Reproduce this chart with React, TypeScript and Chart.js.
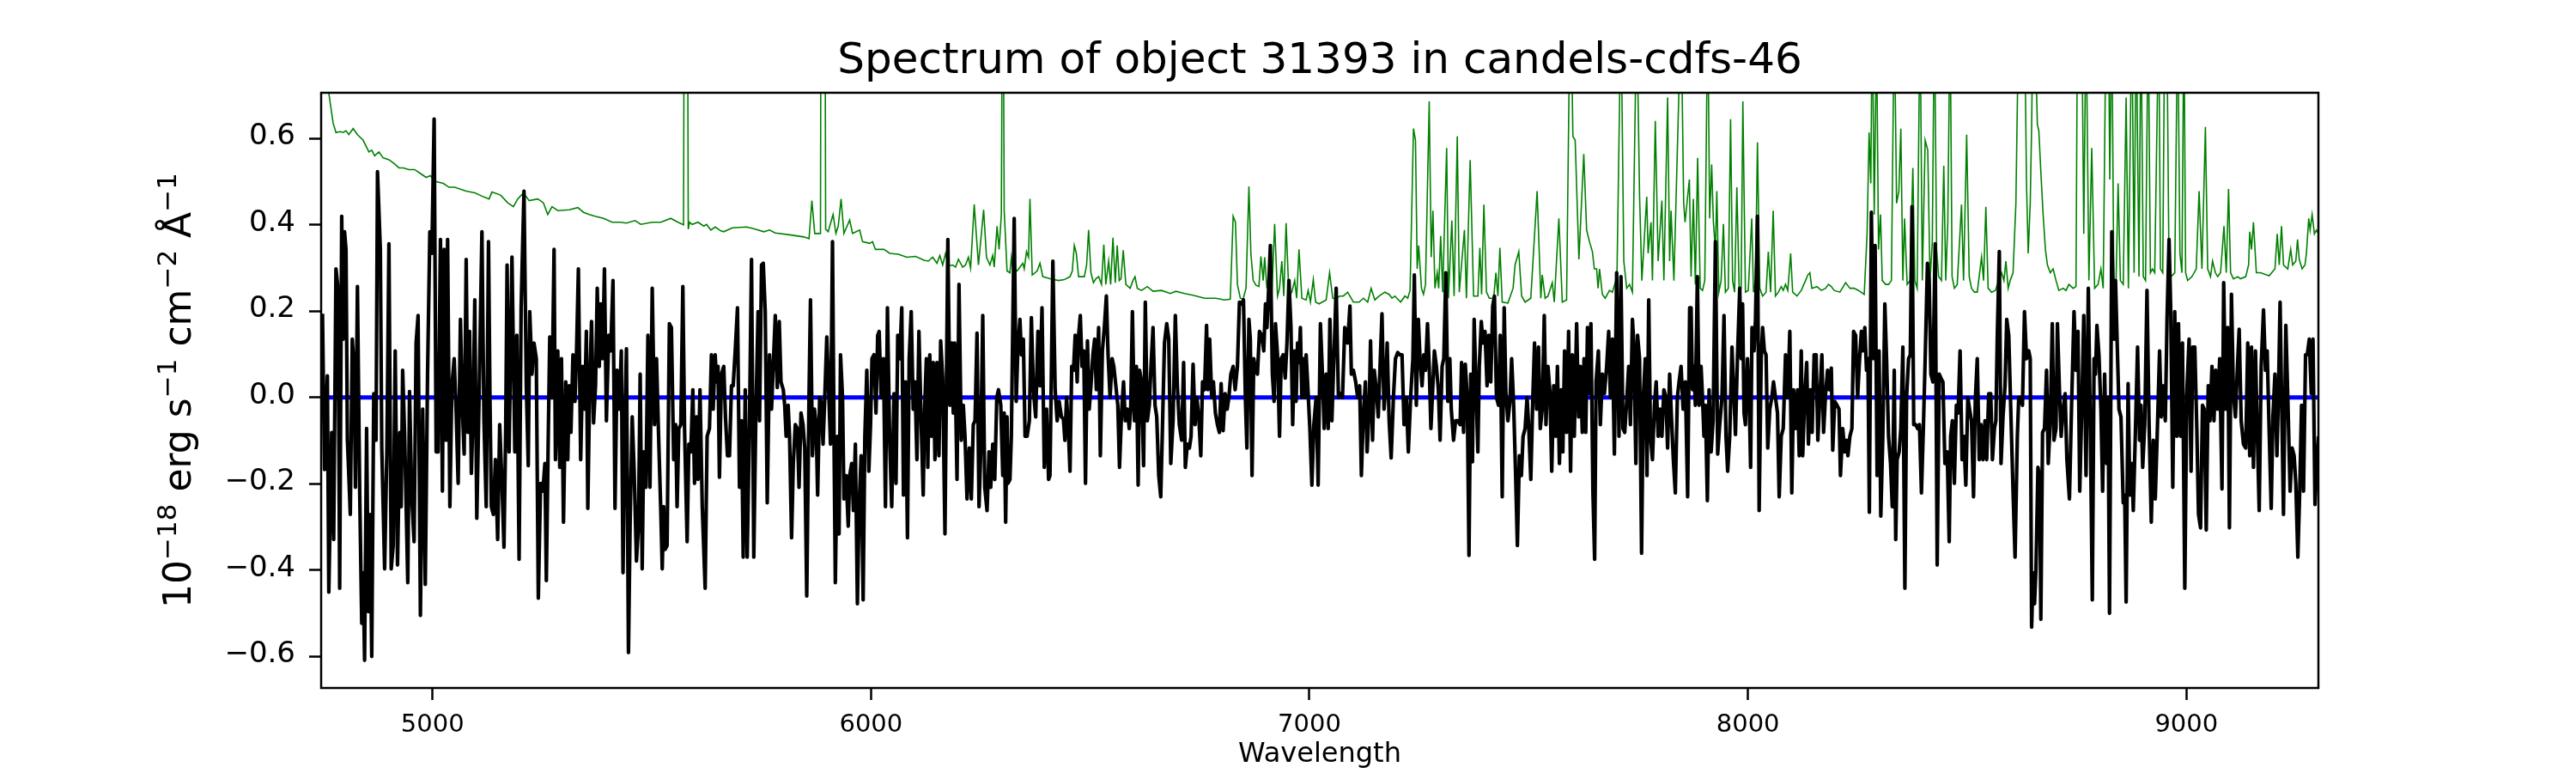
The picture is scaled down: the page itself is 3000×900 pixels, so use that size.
import { useEffect, useRef } from 'react';
import { Chart, registerables } from 'chart.js';

Chart.register(...registerables);

const FONT = '"DejaVu Sans", "Noto Sans", sans-serif';
const TITLE = 'Spectrum of object 31393 in candels-cdfs-46';
const X_LABEL = 'Wavelength';
// y label pieces: [text, isSuperscript]
const Y_LABEL_PARTS: [string, boolean][] = [
  ['10', false], ['\u221218', true], [' erg s', false], ['\u22121', true],
  [' cm', false], ['\u22122', true], [' \u00c5', false], ['\u22121', true],
];

const X_MIN = 4746;
const X_MAX = 9301;
const Y_MIN = -0.673;
const Y_MAX = 0.706;
const X_TICKS = [5000, 6000, 7000, 8000, 9000];
const Y_TICKS = [-0.6, -0.4, -0.2, 0, 0.2, 0.4, 0.6];
const ZERO_LEVEL = 0;

// object flux, [wavelength, flux] in six pieces
const fluxA: [number, number][] = [
  [4749.1,0.194],[4753.7,-0.167],[4760.2,0.05],[4763.5,-0.451],[4770,-0.081],[4774.6,-0.329],[4779.8,0.298],[4784.4,0.253],[4788.3,-0.442],[4792.9,0.42],
  [4796.1,0.135],[4799.4,0.384],[4802.7,0.343],[4805.9,-0.099],[4809.2,-0.181],[4812.5,-0.271],[4817,0.135],[4821,0.072],[4824.2,-0.208],[4828.8,0.257],
  [4834,-0.226],[4838.6,-0.523],[4841.8,-0.406],[4845.1,-0.609],[4849.7,-0.072],[4853.6,-0.496],[4857.5,-0.271],[4861.4,-0.6],[4866,0.009],[4871.2,-0.099],
  [4874.5,0.523],[4881,0.343],[4884.3,-0.117],[4890.8,-0.397],[4896,-0.117],[4900.6,0.356],[4905.8,-0.397],[4910.4,-0.343],[4914.9,0.108],[4920.2,-0.388],
  [4925.4,-0.081],[4928.6,-0.253],[4931.9,0.063],[4936.5,-0.09],[4943.6,-0.429],[4947.6,0.014],[4952.8,-0.235],[4958,-0.334],[4962.6,0.126],[4967.1,0.19],
  [4972.4,-0.505],[4977.6,-0.027],[4983.5,-0.433],[4988.7,0.054],[4993.9,0.384],[4998.5,0.334],[5003.7,0.645],[5008.3,-0.126],[5012.8,-0.126],[5018.1,0.366],
  [5022.6,-0.217],[5026.5,0.343],[5031.1,-0.099],[5034.4,0.366],[5039.6,-0.253],[5044.2,0.027],[5049.4,0.09],[5054,-0.036],[5058.5,-0.199],[5063.7,0.181],
  [5068.3,-0.027],[5072.2,-0.131],[5076.8,0.32],[5080.7,-0.081],[5084.6,0.153],[5088.6,-0.176],[5092.5,-0.036],[5096.4,0.226],[5101,-0.28],[5106.2,0],
  [5112.7,0.384],[5117.3,-0.054],[5122.5,-0.253],[5127.7,0.361],[5131,0],[5134.2,-0.253],[5138.8,-0.271],[5143.4,-0.144],[5148.6,-0.329],[5153.2,-0.063],
  [5158.4,-0.199],[5163,-0.347],[5166.9,-0.072],[5170.1,0.307],[5174.7,-0.126],[5181.2,0.325],[5187.8,-0.126],[5192.3,0.144],[5197.5,-0.375],[5202.1,0.208],
  [5208.6,0.478],[5213.9,0.027],[5218.4,-0.158],[5221.7,0.199],[5226.9,0.054],[5231.5,0.126],[5236.7,0.09],[5241.3,-0.465],[5246.5,-0.199],[5251.7,-0.217],
  [5256.3,-0.153],[5259.6,-0.424],[5263.5,-0.126],[5267.4,0.14],[5272.6,0],[5277.2,0.343],[5280.4,-0.144],[5285.7,0.108],[5290.2,-0.162],[5294.1,0.09],
  [5298.7,-0.289],[5303.9,0.036],[5308.5,-0.144],[5311.8,0.027],[5315.7,-0.081],[5320.3,0.099],[5324.8,-0.009],[5328.1,0.09],[5332.7,0.298],[5337.9,-0.144],
  [5342.4,0.072],[5347,-0.027],[5350.9,0.153],[5354.2,-0.257],[5358.8,0.045],[5362.7,0.176],[5367.3,-0.059],[5371.8,0.027],[5375.7,0.253],[5380.3,0.072],
  [5383.6,0.217],[5388.1,0.09],[5392.1,0.298],[5396.6,-0.054],[5401.8,0.144],[5406.4,0.108],[5411.6,0.271],[5416.2,-0.257],[5420.8,0.063],[5426,-0.027],
  [5430.6,0.108],[5434.5,-0.406],[5439,-0.036],[5442.3,0.113],[5446.9,-0.591],[5450.8,-0.28],[5455.4,-0.045],[5459.9,-0.171],[5465.1,-0.379],[5469.7,-0.298],
  [5473.6,0.054],[5478.2,-0.397],[5481.5,-0.126],[5486.7,-0.208],[5491.3,0.144],[5495.9,-0.208],[5501.1,0.253],[5506.3,-0.063],[5510.9,0.09],[5515.4,-0.081],
];

const fluxB: [number, number][] = [
  [5520.6,-0.262],[5523.9,-0.397],[5527.1,-0.253],[5530.4,-0.352],[5535,-0.343],[5540.2,0.171],[5544.8,0.162],[5550,-0.144],[5554.5,-0.063],[5557.8,-0.253],
  [5561.7,-0.072],[5566.3,-0.063],[5570.9,0.257],[5574.8,-0.072],[5580.7,-0.334],[5584.6,-0.108],[5589.1,-0.126],[5593.7,0.018],[5597.6,-0.199],[5602.2,-0.045],
  [5605.5,-0.19],[5610,0.018],[5615.2,-0.253],[5621.8,-0.442],[5626.3,-0.09],[5631.6,-0.072],[5636.1,0.099],[5640.1,-0.027],[5644.6,0.099],[5647.9,0.036],
  [5651.1,0.072],[5654.4,-0.185],[5659,0.054],[5664.2,0.072],[5668.1,-0.045],[5672.7,-0.135],[5677.3,-0.135],[5681.8,0.027],[5685.7,0.027],[5690.3,0.108],
  [5695.5,0.208],[5700.1,-0.208],[5704.7,-0.054],[5708.6,-0.37],[5713.2,0.018],[5717.7,-0.37],[5723,-0.05],[5727.5,0.32],[5732.7,-0.37],[5737.3,-0.045],
  [5742.5,0.199],[5745.8,-0.054],[5750.4,0.307],[5754.3,0.311],[5758.8,0.199],[5763.4,-0.244],[5768.6,0.099],[5773.2,-0.027],[5777.1,0.072],[5781.7,0.19],
  [5786.3,0.023],[5790.8,0.176],[5794.7,0.036],[5800,0.018],[5803.2,-0.018],[5806.5,-0.09],[5811.1,-0.018],[5814.3,-0.09],[5818.9,-0.325],[5822.8,-0.153],
  [5827.4,-0.063],[5831.9,-0.072],[5835.9,-0.208],[5840.4,-0.036],[5845,-0.063],[5848.9,-0.117],[5853.5,-0.46],[5858.7,0.009],[5862,0.226],[5866.5,-0.135],
  [5871.1,-0.027],[5875,-0.063],[5878.3,-0.226],[5882.9,0],[5886.1,-0.009],[5890.7,-0.108],[5894.6,0],[5899.2,0.14],[5903.7,0.009],[5907.7,-0.108],
  [5912.2,0.361],[5916.1,-0.144],[5918.7,-0.429],[5923.3,-0.09],[5927.2,-0.316],[5930.5,0.099],[5935.1,0],[5938.3,-0.235],[5943.5,-0.181],[5948.1,-0.298],
  [5951.4,-0.181],[5956,-0.153],[5959.9,-0.262],[5964.4,-0.108],[5969,-0.478],[5972.9,-0.253],[5977.5,-0.135],[5982.1,-0.469],[5986,-0.09],[5990.5,0.063],
  [5995.1,-0.171],[5999,-0.063],[6002.3,0.09],[6006.9,0.099],[6011.4,-0.036],[6015.3,0.144],[6018.6,0.153],[6023.2,0],[6028.4,0.09],[6033,-0.253],
  [6037.5,0.208],[6042.8,-0.108],[6047.3,-0.253],[6052.5,0.009],[6057.1,-0.199],[6061,0.144],[6065.6,0.09],[6070.2,0.208],[6074.1,-0.226],[6078.7,0.036],
  [6083.2,-0.325],[6087.1,0.09],[6091.7,0.199],[6096.3,-0.027],[6100.2,0.036],[6104.8,-0.144],[6109.3,0.153],[6114.6,-0.063],[6119.1,-0.226],[6122.4,-0.027],
  [6126.3,0.09],[6129.6,-0.162],[6134.1,0.099],[6138,-0.09],[6142,0.081],[6145.9,-0.144],[6150.5,0.081],[6155,-0.135],[6158.9,0.131],[6163.5,0.045],
  [6168.7,-0.316],[6175.3,0.366],[6179.8,-0.018],[6184.4,0.126],[6187.7,-0.036],[6190.9,0.126],[6196.2,-0.19],[6200.7,0.262],[6205.9,-0.099],[6210.5,-0.018],
  [6214.4,-0.09],[6219,-0.235],[6224.2,-0.117],[6228.8,-0.235],[6233.3,-0.063],[6237.3,-0.054],[6241.8,0.149],[6246.4,-0.253],[6250.3,-0.126],[6254.9,0.19],
  [6259.4,-0.208],[6264.7,-0.262],[6269.2,-0.126],[6273.1,-0.208],[6277.7,-0.108],[6282.3,-0.19],[6286.9,0],[6290.8,0.018],[6296,-0.018],[6300.6,-0.181],
];

const fluxC: [number, number][] = [
  [6303.8,-0.036],[6307.1,-0.289],[6310.3,-0.045],[6312.3,-0.199],[6316.9,-0.19],[6320.1,-0.09],[6326.6,0.415],[6331.2,-0.009],[6335.1,0.117],[6339.7,0.181],
  [6343,0.099],[6347.5,0.135],[6351.4,-0.09],[6356,-0.09],[6361.2,-0.054],[6365.8,0.185],[6370.4,0.018],[6375.6,-0.045],[6380.8,0.153],[6385.4,0.027],
  [6390,0.208],[6395.2,-0.162],[6400.4,-0.027],[6405,-0.19],[6408.2,-0.181],[6414.8,0.316],[6420,0.018],[6424.6,-0.054],[6429.1,-0.009],[6434.3,-0.045],
  [6438.9,-0.05],[6442.2,-0.099],[6446.1,0],[6450,-0.072],[6453.9,-0.171],[6457.8,0.072],[6461.8,0.063],[6465.7,0.144],[6470.2,0.036],[6473.5,0.144],
  [6477.4,0.19],[6481.3,0.072],[6485.3,0.108],[6489.2,-0.199],[6493.7,0.131],[6497.7,-0.027],[6501.6,0.027],[6506.1,0.099],[6510,0.135],[6514,0.018],
  [6519.2,0.162],[6523.1,-0.135],[6527.7,0.108],[6532.2,0.162],[6536.8,0.235],[6540.7,0.099],[6545.3,0],[6549.9,0.09],[6553.8,0.072],[6558.4,0.027],
  [6562.9,-0.018],[6566.8,-0.162],[6571.4,-0.036],[6576,0.036],[6579.9,-0.054],[6584.5,-0.027],[6589,-0.072],[6592.3,-0.027],[6596.2,0.199],[6600.8,-0.054],
  [6605.3,0.072],[6609.3,-0.203],[6612.5,0.063],[6617.1,0.036],[6621.7,-0.158],[6625.6,0.221],[6630.2,-0.054],[6634.7,-0.018],[6638.6,0.072],[6643.2,0.162],
  [6647.8,-0.018],[6651.7,-0.045],[6656.3,-0.181],[6660.8,-0.23],[6664.7,-0.072],[6669.3,0.126],[6674.5,0.171],[6679.1,0.135],[6683.7,-0.153],[6688.9,-0.054],
  [6694.1,0.19],[6698.7,0.027],[6703.2,-0.063],[6708.5,-0.099],[6713,0.081],[6716.9,-0.162],[6721.5,-0.108],[6726.1,-0.117],[6730,-0.09],[6734.6,0.077],
  [6739.1,-0.063],[6743.1,0],[6747.6,-0.045],[6752.2,-0.135],[6756.1,0.036],[6760.7,0.018],[6765.3,0.167],[6768.5,0.018],[6772.4,0.135],[6777,0],
  [6780.9,0.036],[6785.5,-0.036],[6790.1,-0.063],[6794.6,-0.081],[6798.5,0.032],[6803.1,-0.077],[6807.7,0.009],[6812.3,-0.027],[6816.2,0],[6820.7,0.054],
  [6826,0.072],[6830.5,0.018],[6835.7,0.072],[6840.3,0.221],[6845.5,0.217],[6849.5,0.226],[6854,-0.009],[6857.3,-0.117],[6861.9,0.181],[6865.1,0.135],
  [6869,-0.181],[6873,0.09],[6876.9,0.063],[6881.4,0.054],[6886,0.153],[6891.2,0.144],[6895.8,0.108],[6899.7,0.217],[6903,0.162],[6906.2,0.235],
  [6910.8,0.352],[6915.4,0.054],[6919.3,-0.009],[6922.5,0.171],[6927.1,0.099],[6931.7,-0.09],[6935.6,0.09],[6940.2,0.099],[6944.7,0.045],[6948.7,0.126],
  [6953.2,0.271],[6957.8,0.162],[6961.7,-0.063],[6966.3,0.108],[6969.5,-0.009],[6972.8,0.126],[6976.1,0.081],[6979.3,0.162],[6982.6,0],[6985.9,0.09],
  [6989.1,0],[6992.4,0.099],[6995.7,0.036],[7000.9,-0.072],[7005.5,-0.203],[7010,-0.063],[7015.2,0],[7019.8,-0.203],[7025,0.171],[7029.6,0.054],
  [7033.5,-0.072],[7038.1,0.054],[7042.7,-0.072],[7046.6,0.181],[7051.1,-0.054],[7055.7,0.09],[7060.9,0.253],[7066.1,0],[7070.7,0.009],[7075.3,0],
  [7080.5,0.162],
];

const fluxD: [number, number][] = [
  [7087.1,0.126],[7092.3,0.212],[7095.6,0.054],[7100.2,0.063],[7105.4,0.036],[7110,0],[7114.5,0.027],[7118.4,-0.181],[7123,-0.036],[7127.6,0.036],
  [7131.5,-0.126],[7136.1,-0.027],[7139.3,0.131],[7143.9,-0.099],[7147.8,0.063],[7152.4,0.018],[7156.9,-0.045],[7160.9,0.072],[7165.4,0.194],[7170,-0.027],
  [7173.9,0.027],[7177.2,0.126],[7181.7,-0.054],[7186.3,-0.14],[7191.5,0],[7196.1,0.09],[7201.3,0.104],[7205.9,0.099],[7211.1,0.099],[7215.7,-0.063],
  [7220.9,0],[7225.5,-0.126],[7230.7,0],[7235.9,0.09],[7239.2,0.284],[7243.7,-0.018],[7248.3,0.181],[7252.2,0.09],[7256.8,0.027],[7260.7,0.099],
  [7264.6,0.063],[7269.2,0.171],[7273.1,0.072],[7277,-0.072],[7281,0.018],[7284.9,0.108],[7289.4,0.072],[7294,0.018],[7297.9,-0.099],[7302.5,0.072],
  [7306.4,0.09],[7311,0.289],[7315.5,-0.009],[7320.1,0.09],[7323.4,-0.027],[7328.6,-0.099],[7333.2,-0.054],[7338.4,-0.054],[7343.6,-0.063],[7346.9,0.081],
  [7351.4,-0.081],[7355.4,0.077],[7359.9,0],[7363.8,-0.366],[7367.8,0.054],[7371.7,-0.149],[7375.6,0.181],[7379.5,0.036],[7384.1,-0.126],[7387.3,0.072],
  [7391.9,0.176],[7395.8,0.126],[7400.4,0.153],[7405,0.027],[7408.9,0.144],[7413.5,0.036],[7418,0.212],[7421.9,0.235],[7426.5,0],[7431.1,-0.018],
  [7435,0.144],[7439.6,-0.23],[7444.1,0.208],[7448,0.009],[7452.6,-0.054],[7457.2,-0.009],[7461.1,0.09],[7465.7,-0.018],[7470.2,-0.181],[7474.2,-0.343],
  [7478.7,-0.135],[7483.3,-0.181],[7487.2,-0.09],[7491.8,-0.072],[7496.3,0],[7500.2,-0.072],[7504.8,-0.19],[7509.4,0],[7513.3,0.126],[7517.9,-0.027],
  [7522.4,0.117],[7526.4,-0.072],[7530.9,-0.027],[7535.5,0.19],[7539.4,-0.063],[7544,0.072],[7548.6,0.009],[7552.5,-0.171],[7557,0.027],[7561.6,-0.09],
  [7565.5,0.072],[7570.1,-0.153],[7574,0.018],[7577.9,-0.126],[7581.8,0.108],[7586.4,-0.081],[7591,0.153],[7595.5,-0.171],[7599.5,0.099],[7604,-0.09],
  [7609.3,0.171],[7613.8,-0.045],[7617.7,0.072],[7622.3,-0.081],[7626.2,0.09],[7630.1,-0.081],[7634.1,0.162],[7638.6,0.009],[7641.9,0.171],[7646.5,-0.221],
  [7650.4,-0.375],[7653.6,0.036],[7658.9,0.108],[7663.4,-0.063],[7668,0.054],[7672.6,0.009],[7677.8,0.072],[7682.4,0.153],[7686.3,0],[7690.8,0.135],
  [7695.4,-0.131],[7700.6,0.289],[7705.9,-0.09],[7710.4,0.28],[7715,-0.072],[7718.9,-0.081],[7723.5,-0.009],[7728,0.072],[7732,-0.063],[7736.5,0.181],
  [7739.8,0.126],[7744.4,-0.153],[7748.3,0.144],[7752.8,0.09],[7757.4,-0.361],[7761.3,0],[7765.9,0.09],[7769.8,-0.181],[7773.7,0.226],[7777.7,-0.09],
  [7782.2,-0.144],[7786.8,-0.018],[7790.7,0.036],[7795.3,-0.09],[7799.8,-0.027],[7803.8,-0.09],[7808.3,0.018],[7812.9,0],[7816.8,-0.117],[7821.4,0.054],
  [7825.9,-0.054],[7829.9,-0.144],[7834.4,-0.221],[7839,0],[7842.9,0.036],[7847.5,0.072],[7852.1,-0.027],[7857.3,0.036],[7862.5,-0.23],[7867.1,0.208],
];

const fluxE: [number, number][] = [
  [7870.3,0.208],[7873.6,0.018],[7876.8,0.072],[7880.1,-0.018],[7884.7,0.28],[7888.6,-0.018],[7893.1,0.072],[7896.4,0],[7899.7,-0.09],[7903,-0.018],
  [7907.5,-0.239],[7911.4,0.018],[7916,-0.126],[7920.6,-0.054],[7925.8,0.361],[7931,-0.131],[7935.6,-0.063],[7940.8,0],[7945.4,0.19],[7949.9,-0.09],
  [7953.8,-0.171],[7958.4,-0.09],[7963.6,0.117],[7968.2,0],[7971.5,-0.086],[7976,0.09],[7981.3,0.253],[7984.5,0.09],[7987.8,0.217],[7991.1,-0.036],
  [7994.3,-0.063],[7998.9,0.09],[8002.8,0],[8006.1,-0.162],[8009.3,0.162],[8013.9,0.108],[8017.2,0.181],[8021.7,0.42],[8025.6,-0.262],[8030.2,0.09],
  [8033.5,0.162],[8037.4,0.108],[8041.3,0.099],[8045.2,-0.117],[8049.8,-0.027],[8054.4,0],[8058.3,0.036],[8062.8,0],[8067.4,-0.036],[8071.3,-0.23],
  [8075.9,-0.09],[8080.5,-0.072],[8085.7,0.099],[8090.9,0],[8095.5,0.153],[8100,-0.221],[8104,0.018],[8108.5,-0.072],[8113.1,0.018],[8117,-0.135],
  [8121.6,0.108],[8124.9,-0.135],[8129.4,0],[8134,0.081],[8137.9,-0.108],[8142.5,0.018],[8146.4,-0.081],[8151,0.099],[8155.5,0.099],[8159.4,-0.099],
  [8164,0],[8168.6,0.099],[8172.5,-0.081],[8177.1,0.009],[8181.6,0.063],[8185.5,0.018],[8190.1,0.068],[8193.4,-0.122],[8197.9,-0.009],[8203.2,-0.018],
  [8207.7,-0.027],[8211,-0.181],[8216.2,-0.072],[8220.8,-0.126],[8224.7,-0.099],[8228,-0.135],[8232.5,-0.09],[8237.1,-0.072],[8241,0.153],[8245.6,0.144],
  [8250.2,0],[8254.1,0.081],[8258.7,0.153],[8261.9,0.108],[8266.5,0.162],[8270.4,0.063],[8273.7,0.09],[8276.9,-0.266],[8281.5,0.429],[8286.1,0.09],
  [8290,0.352],[8294.6,-0.181],[8299.1,0.108],[8303,-0.275],[8307.6,-0.09],[8312.2,0.217],[8316.1,0.09],[8320.7,-0.09],[8325.2,-0.153],[8329.2,-0.253],
  [8333.7,0.063],[8337,-0.329],[8340.2,-0.144],[8344.8,-0.126],[8348.7,-0.072],[8353.3,0.117],[8357.9,-0.442],[8361.8,0],[8366.4,0.09],[8370.3,0.099],
  [8374.2,0.442],[8378.1,-0.063],[8382.7,-0.063],[8387.2,-0.072],[8391.2,-0.063],[8395.7,-0.221],[8400.3,-0.063],[8404.2,0.09],[8409.4,0.311],[8413.3,0.271],
  [8417.3,0.054],[8421.8,0.036],[8427,0.356],[8431.6,-0.388],[8436.2,0.054],[8440.1,0.045],[8444.7,0.036],[8449.2,-0.153],[8454.5,-0.126],[8459,-0.334],
  [8462.3,-0.09],[8466.2,-0.054],[8470.8,-0.199],[8475.3,-0.018],[8479.3,-0.036],[8483.8,0.108],[8488.4,-0.144],[8492.3,-0.09],[8496.9,-0.203],[8501.5,0],
  [8505.4,-0.027],[8509.9,-0.054],[8514.5,-0.23],[8518.4,-0.009],[8523,0.09],[8527.6,-0.144],[8531.5,-0.063],[8536,-0.144],[8540.6,-0.054],[8544.5,-0.144],
  [8549.1,0.009],[8553.7,0.009],[8557.6,-0.144],[8562.2,-0.072],[8565.4,-0.054],[8568.7,0.144],[8573.3,0.338],[8577.2,-0.153],[8581.7,-0.045],[8586.3,0.027],
  [8590.2,0.181],[8594.8,0.144],[8599.4,-0.027],[8604.6,-0.217],[8609.2,-0.37],[8614.4,-0.09],[8617.6,0],[8622.2,0],[8626.1,-0.018],[8630.7,0.199],
  [8635.3,0.09],[8640.5,0.108],[8643.8,0.09],[8647,-0.532],[8650.3,-0.406],
];

const fluxF: [number, number][] = [
  [8653.6,-0.478],[8656.9,-0.397],[8661.4,-0.162],[8665.3,-0.185],[8668,-0.514],[8671.9,-0.081],[8676.4,-0.072],[8681,0.063],[8684.9,-0.153],[8689.5,-0.054],
  [8694.1,0.171],[8698,-0.099],[8702.6,-0.072],[8705.8,0.171],[8710.4,0.018],[8714.3,-0.09],[8718.9,-0.027],[8723.4,0.009],[8727.4,-0.144],[8733.2,-0.235],
  [8738.5,0],[8743.7,0.199],[8748.2,0.063],[8752.8,0.153],[8756.7,-0.217],[8761.3,-0.027],[8765.9,0.19],[8771.1,-0.181],[8776.3,0.253],[8780.9,-0.072],
  [8785.4,-0.469],[8789.4,0.09],[8792.6,0.054],[8795.9,0.167],[8800.5,0.099],[8805,-0.027],[8808.9,-0.217],[8813.5,0.054],[8818.1,-0.153],[8821.3,0],
  [8824.6,-0.5],[8829.8,0.384],[8835.1,0.135],[8838.3,0.271],[8841.6,0.144],[8846.2,-0.027],[8850.7,-0.045],[8855.9,-0.244],[8859.2,-0.226],[8862.5,-0.474],
  [8867,0.032],[8871,-0.226],[8875.5,-0.153],[8878.8,-0.262],[8883.4,-0.09],[8888.6,0.117],[8893.1,-0.099],[8896.4,-0.018],[8900.3,-0.162],[8904.9,-0.063],
  [8910.1,0.248],[8914.7,-0.054],[8919.9,-0.289],[8924.5,-0.099],[8929,-0.235],[8934.3,-0.054],[8938.8,0.108],[8942.7,-0.045],[8947.3,0.027],[8951.9,-0.054],
  [8955.8,0.181],[8960.4,0.366],[8964.3,0.199],[8968.9,-0.208],[8973.4,0.199],[8978,-0.09],[8981.9,0.171],[8986.5,-0.09],[8991,0.126],[8996.3,-0.442],
  [9000.8,0.009],[9006.1,0.135],[9010.6,-0.171],[9014.5,0.117],[9019.1,0.117],[9023.7,-0.072],[9027.6,-0.271],[9032.2,-0.302],[9036.7,-0.018],[9040.6,-0.027],
  [9045.2,-0.307],[9049.8,0.027],[9053.7,-0.054],[9058.3,0.072],[9062.8,-0.054],[9066.8,0.063],[9071.3,-0.027],[9075.9,0.09],[9081.1,-0.212],[9085,0.266],
  [9089.6,-0.027],[9094.2,0.162],[9098.1,-0.302],[9102.7,0.239],[9107.2,0.009],[9111.8,-0.045],[9115.7,0.054],[9120.3,0.158],[9124.9,-0.054],[9130.1,-0.108],
  [9135.3,-0.117],[9139.9,0.126],[9144.4,-0.135],[9148.4,0.117],[9152.9,-0.162],[9157.5,0.108],[9161.4,-0.072],[9166,-0.262],[9170.5,0.072],[9175.8,0.203],
  [9180.3,0.063],[9184.2,0.108],[9188.8,-0.081],[9193.4,-0.257],[9197.3,-0.045],[9201.9,0.054],[9206.4,-0.135],[9209.7,0],[9213.6,0.221],[9218.2,-0.072],
  [9221.4,-0.271],[9226.7,0.167],[9231.2,0],[9236.5,-0.217],[9241,-0.117],[9245.6,-0.135],[9249.5,-0.199],[9254.1,-0.37],[9258.6,-0.208],[9262.6,-0.018],
  [9267.1,-0.217],[9271.7,0.099],[9275.6,0.099],[9280.2,0.135],[9284.8,0.009],[9288.7,0.135],[9293.2,-0.248],[9298.5,-0.135],[9301.1,-0.09],
];

// green error / sky spectrum, same wavelength grid pieces
const errA: [number, number][] = [
  [4750,1.2],[4763.5,0.705],[4773.3,0.636],[4779.8,0.614],[4789.6,0.616],[4796.1,0.614],[4802.7,0.618],[4809.2,0.609],[4819,0.623],[4828.8,0.609],
  [4841.8,0.596],[4854.9,0.569],[4861.4,0.573],[4868,0.56],[4877.7,0.569],[4887.5,0.555],[4900.6,0.551],[4913.6,0.541],[4923.4,0.532],[4933.2,0.532],
  [4946.3,0.528],[4959.3,0.528],[4972.4,0.519],[4985.4,0.51],[4995.2,0.514],[5005,0.501],[5024.6,0.496],[5037.7,0.487],[5050.7,0.487],[5076.8,0.478],
  [5096.4,0.474],[5116,0.465],[5129,0.46],[5135.6,0.476],[5155.1,0.469],[5171.5,0.451],[5184.5,0.442],[5194.3,0.46],[5207.3,0.474],[5220.4,0.456],
  [5240,0.46],[5253,0.451],[5262.8,0.424],[5272.6,0.442],[5285.7,0.433],[5311.8,0.435],[5331.4,0.44],[5344.4,0.429],[5357.5,0.424],[5370.5,0.42],
  [5390.1,0.415],[5409.7,0.406],[5429.3,0.406],[5442.3,0.404],[5461.9,0.41],[5475,0.401],[5501.1,0.406],
];

const errB: [number, number][] = [
  [5520.6,0.406],[5543.4,0.415],[5559.8,0.406],[5572.5,0.4],[5575.5,1.6],[5580.5,1.4],[5583.3,0.39],[5585.9,0.406],[5592.4,0.401],[5605.5,0.406],
  [5618.5,0.397],[5625,0.401],[5634.8,0.388],[5644.6,0.395],[5657.7,0.386],[5664.2,0.384],[5683.8,0.393],[5716.4,0.395],[5736,0.39],[5755.6,0.384],
  [5768.6,0.388],[5781.7,0.381],[5814.3,0.377],[5847,0.372],[5858.7,0.368],[5865.2,0.456],[5871.7,0.38],[5884.8,0.38],[5886.8,1.5],[5894,1.5],
  [5896.6,0.39],[5902.4,0.384],[5913.5,0.424],[5920,0.38],[5925.3,0.397],[5931.8,0.46],[5938.3,0.38],[5951.4,0.411],[5957.9,0.38],[5974.2,0.388],
  [5980.8,0.361],[5997.1,0.357],[6003.6,0.361],[6010.1,0.343],[6029.7,0.343],[6042.8,0.334],[6062.4,0.332],[6081.9,0.325],[6101.5,0.327],[6121.1,0.318],
  [6130.9,0.316],[6140.7,0.325],[6150.5,0.311],[6157,0.329],[6163.5,0.307],[6170.1,0.334],[6176.6,0.305],[6186.4,0.307],[6192.9,0.302],[6199.4,0.32],
  [6209.2,0.302],[6215.7,0.307],[6222.2,0.325],[6227.2,0.3],[6235.4,0.447],[6245.1,0.307],[6256.9,0.435],[6263.4,0.325],[6271.2,0.307],[6277.7,0.329],
  [6281,0.302],[6287.5,0.397],[6292.1,0.343],[6297.3,0.424],[6300.6,1.2],
];

const errC: [number, number][] = [
  [6303.8,0.433],[6310.3,0.293],[6316.9,0.289],[6320.1,0.325],[6323.4,0.298],[6333.2,0.293],[6339.7,0.302],[6346.2,0.311],[6349.5,0.298],[6354.7,0.338],
  [6359.3,0.325],[6362.5,0.46],[6367.8,0.284],[6378.9,0.293],[6385.4,0.311],[6391.9,0.28],[6408.2,0.275],[6427.8,0.271],[6440.9,0.273],[6453.9,0.28],
  [6459.1,0.293],[6463.7,0.352],[6468.3,0.334],[6473.5,0.28],[6486.6,0.28],[6491.8,0.307],[6496.3,0.388],[6501.6,0.289],[6507.4,0.266],[6512.7,0.275],
  [6519.2,0.28],[6525.7,0.262],[6531,0.354],[6535.5,0.262],[6542,0.316],[6546.6,0.262],[6551.8,0.37],[6557.1,0.266],[6561.6,0.352],[6566.2,0.271],
  [6570.1,0.275],[6575.3,0.341],[6581.2,0.262],[6591,0.253],[6597.5,0.271],[6602.1,0.28],[6607.3,0.253],[6617.1,0.248],[6630.2,0.257],[6643.2,0.246],
  [6662.8,0.248],[6682.4,0.241],[6695.4,0.246],[6715,0.241],[6734.6,0.237],[6760.7,0.23],[6786.8,0.23],[6806.4,0.226],[6819.4,0.228],[6826,0.42],
  [6831.2,0.406],[6835.7,0.262],[6842.3,0.23],[6848.8,0.228],[6855.3,0.253],[6861.9,0.489],[6866.4,0.334],[6871.7,0.271],[6878.2,0.26],[6884.7,0.257],
  [6889.3,0.327],[6894.5,0.271],[6897.8,0.325],[6903,0.253],[6907.5,0.289],[6914.1,0.235],[6920.6,0.402],[6927.1,0.235],[6931.7,0.253],[6936.9,0.316],
  [6941.5,0.235],[6946.7,0.404],[6953.2,0.235],[6959.8,0.244],[6966.3,0.271],[6970.8,0.23],[6976.1,0.343],[6982.6,0.23],[6992.4,0.226],[6997,0.248],
  [7002.2,0.221],[7008.7,0.273],[7014,0.221],[7021.8,0.217],[7038.1,0.226],[7045.9,0.289],[7053.1,0.23],[7060.9,0.228],[7068.8,0.235],[7077.2,0.235],
];

const errD: [number, number][] = [
  [7087.1,0.244],[7100.2,0.221],[7113.2,0.221],[7123,0.23],[7132.8,0.221],[7140.6,0.253],[7149.1,0.226],[7158.9,0.235],[7172,0.244],[7181.7,0.239],
  [7188.3,0.23],[7194.8,0.235],[7207.9,0.221],[7217.6,0.235],[7224.2,0.23],[7229.4,0.248],[7237.2,0.623],[7241.8,0.596],[7245.7,0.298],[7249,0.352],
  [7255.5,0.253],[7260.1,0.239],[7264.6,0.262],[7273.1,0.686],[7277.7,0.325],[7281.6,0.433],[7286.2,0.253],[7291.4,0.289],[7294.7,0.253],[7299.2,0.374],
  [7303.8,0.244],[7312.9,0.578],[7316.9,0.23],[7324.7,0.41],[7329.9,0.235],[7337.1,0.605],[7341.7,0.244],[7353.4,0.388],[7358,0.23],[7366.5,0.55],
  [7374.3,0.235],[7384.1,0.235],[7388.6,0.347],[7392.6,0.239],[7397.8,0.447],[7403.7,0.244],[7410.2,0.23],[7420,0.23],[7425.2,0.289],[7429.8,0.235],
  [7434.3,0.347],[7439.6,0.221],[7452.6,0.219],[7464.4,0.253],[7468.9,0.307],[7477.4,0.338],[7483.9,0.235],[7491.8,0.221],[7504.8,0.23],[7519.2,0.478],
  [7527.7,0.23],[7530.9,0.284],[7537.5,0.23],[7544,0.235],[7553.8,0.266],[7558.3,0.221],[7568.8,0.415],[7576.6,0.221],[7586.4,0.226],[7594,0.9],
  [7598,0.8],[7600.8,0.605],[7606,0.596],[7614.5,0.32],[7625.6,0.564],[7632.1,0.388],[7638.6,0.361],[7645.2,0.338],[7649.7,0.298],[7654.9,0.298],
  [7658.2,0.253],[7661.5,0.298],[7668,0.239],[7674.5,0.23],[7684.3,0.248],[7690.8,0.244],[7697.4,0.266],[7700.6,0.235],[7710.4,0.9],[7716.9,0.316],
  [7723.5,0.253],[7730,0.262],[7736.5,0.244],[7746.3,0.9],[7752.8,0.469],[7758.1,0.271],[7769.2,0.465],[7772.4,0.334],[7778.9,0.406],[7782.2,0.271],
  [7788.7,0.641],[7795.2,0.316],[7803.7,0.456],[7808.3,0.271],[7816.8,0.695],[7821.4,0.316],[7824.6,0.433],[7831.2,0.271],[7847.5,0.9],[7853.4,0.451],
  [7856.6,0.406],[7866.4,0.505],
];

const errE: [number, number][] = [
  [7870.3,0.28],[7875.5,0.46],[7880.1,0.262],[7885.3,0.555],[7891.2,0.253],[7896.4,0.248],[7901.6,0.271],[7908.2,0.9],[7912.7,0.415],[7917.3,0.54],
  [7921.2,0.406],[7925.8,0.343],[7929,0.478],[7933.6,0.244],[7938.8,0.271],[7944.1,0.402],[7948.6,0.244],[7955.2,0.253],[7960.4,0.645],[7965,0.271],
  [7969.5,0.244],[7974.7,0.487],[7980,0.253],[7984.5,0.253],[7988.4,0.686],[7994.3,0.244],[8000.8,0.248],[8008.7,0.415],[8012.6,0.244],[8017.2,0.271],
  [8021.7,0.591],[8027,0.253],[8033.5,0.235],[8041.3,0.244],[8046.5,0.338],[8051.7,0.244],[8057.6,0.433],[8062.8,0.235],[8069.4,0.244],[8075.9,0.257],
  [8080.5,0.248],[8085.7,0.262],[8090.9,0.248],[8097.4,0.334],[8102,0.244],[8111.8,0.235],[8121.6,0.248],[8131.4,0.271],[8136.6,0.284],[8141.2,0.289],
  [8145.7,0.253],[8157.5,0.257],[8167.3,0.248],[8177.1,0.253],[8183.6,0.262],[8190.1,0.257],[8196.7,0.248],[8209.7,0.244],[8222.8,0.266],[8232.5,0.253],
  [8242.3,0.253],[8252.1,0.248],[8265.2,0.239],[8271.7,0.379],[8276.3,0.614],[8280.2,0.496],[8283.5,0.9],[8288,0.424],[8293.3,0.85],[8297.8,0.343],
  [8302.4,0.424],[8306.3,0.271],[8314.1,0.262],[8320.7,0.262],[8327.2,0.271],[8333.7,0.9],[8339,0.45],[8344.2,0.478],[8348.7,0.623],[8353.3,0.271],
  [8357.2,0.415],[8363.1,0.262],[8369.6,0.271],[8376.1,0.532],[8380.7,0.271],[8385.9,0.253],[8392.5,0.9],[8397.7,0.271],[8404.2,0.596],[8410.1,0.573],
  [8415.3,0.271],[8420.5,0.361],[8425.1,0.9],[8430.3,0.343],[8434.9,0.28],[8441.4,0.271],[8446.6,0.537],[8451.2,0.271],[8455.8,0.406],[8461,0.9],
  [8465.6,0.28],[8470.8,0.253],[8477.3,0.262],[8487.1,0.447],[8491.7,0.271],[8498.8,0.609],[8504.7,0.28],[8509.9,0.253],[8516.5,0.244],[8523,0.244],
  [8532.8,0.325],[8537.4,0.271],[8542.6,0.442],[8547.8,0.253],[8555.6,0.244],[8564.2,0.248],[8572,0.271],[8578.5,0.289],[8583.8,0.271],[8588.3,0.316],
  [8593.5,0.253],[8598.1,0.271],[8604.6,0.289],[8611.1,0.45],[8617.6,0.9],[8624.2,1.0],[8630.7,0.9],[8635.3,0.496],[8639.2,0.334],[8643.8,0.45],
  [8647,0.63],[8650.3,0.9],
];

const errF: [number, number][] = [
  [8653.6,0.9],[8660.1,0.632],[8663.4,0.618],[8668,0.523],[8673.2,0.424],[8678.4,0.343],[8683,0.307],[8689.5,0.289],[8696,0.298],[8702.6,0.271],
  [8709.1,0.248],[8718.9,0.253],[8725.4,0.248],[8731.9,0.262],[8741.7,0.253],[8748.2,0.257],[8751.5,0.9],[8758,1.0],[8761.3,0.9],[8765.9,0.379],
  [8771.1,0.9],[8777.6,0.271],[8784.1,0.578],[8790.7,0.253],[8798.5,0.262],[8805,0.298],[8810.2,0.253],[8816.8,0.9],[8822,0.9],[8825.3,0.505],
  [8829.8,0.9],[8834.4,0.271],[8839.6,0.271],[8844.2,0.496],[8849.4,0.271],[8855.9,0.262],[8862.5,0.695],[8867.7,0.253],[8875.5,0.9],[8880.7,0.289],
  [8885.3,0.9],[8891.8,0.28],[8896.4,0.9],[8901.6,0.28],[8906.8,0.271],[8912.7,0.9],[8917.9,0.289],[8922.5,0.298],[8927.7,0.289],[8936.9,0.9],
  [8940.8,0.298],[8946,0.289],[8950.6,0.9],[8955.1,0.9],[8960.4,0.289],[8964.9,0.28],[8973.4,0.289],[8980,0.9],[8985.2,0.334],[8989.8,0.289],
  [8994.3,0.9],[8998.2,0.289],[9002.8,0.271],[9012.6,0.28],[9022.4,0.298],[9028.9,0.478],[9035.4,0.298],[9043.3,0.627],[9048.5,0.298],[9055,0.28],
  [9059.6,0.316],[9066.1,0.289],[9071.3,0.28],[9077.9,0.289],[9085.7,0.397],[9090.9,0.289],[9096.1,0.483],[9100.7,0.289],[9107.2,0.275],[9117,0.28],
  [9123.5,0.275],[9135.3,0.28],[9141.8,0.307],[9144.4,0.384],[9148.4,0.343],[9152.9,0.406],[9159.5,0.289],[9169.2,0.289],[9182.3,0.284],[9188.8,0.282],
  [9201.9,0.298],[9207.1,0.379],[9211.7,0.307],[9216.9,0.397],[9221.5,0.307],[9231.2,0.298],[9237.8,0.343],[9242.3,0.307],[9249.5,0.316],[9253.4,0.366],
  [9257.3,0.32],[9263.9,0.298],[9270.4,0.307],[9273.7,0.334],[9278.9,0.415],[9282.1,0.388],[9286.7,0.424],[9291.9,0.379],[9296.5,0.388],[9301,0.38],
];

const toXY = (pairs: [number, number][]) => pairs.map(([x, y]) => ({ x, y }));

const mplPlugin = {
  id: 'mplDecor',
  afterDatasetsDraw(chart: Chart) {
    const { ctx, chartArea: a } = chart;
    ctx.save();
    ctx.strokeStyle = '#000';
    ctx.lineWidth = 2.5;
    ctx.strokeRect(a.left, a.top, a.right - a.left, a.bottom - a.top);
    ctx.restore();
  },
  afterDraw(chart: Chart) {
    const { ctx, chartArea: a } = chart;
    const cx = (a.left + a.right) / 2;
    ctx.save();
    ctx.fillStyle = '#000';
    ctx.textAlign = 'center';
    ctx.textBaseline = 'alphabetic';
    ctx.font = `50px ${FONT}`;
    ctx.fillText(TITLE, cx, 85);
    ctx.font = `32px ${FONT}`;
    ctx.fillText(X_LABEL, cx, 887);

    // rotated y label with superscripts
    const mainFont = `44px ${FONT}`;
    const supFont = `31px ${FONT}`;
    ctx.translate(222, (a.top + a.bottom) / 2);
    ctx.rotate(-Math.PI / 2);
    ctx.textAlign = 'left';
    let total = 0;
    for (const [text, sup] of Y_LABEL_PARTS) {
      ctx.font = sup ? supFont : mainFont;
      total += ctx.measureText(text).width;
    }
    let x = -total / 2;
    for (const [text, sup] of Y_LABEL_PARTS) {
      ctx.font = sup ? supFont : mainFont;
      ctx.fillText(text, x, sup ? -17 : 0);
      x += ctx.measureText(text).width;
    }
    ctx.restore();
  },
};

export default function App() {
  const canvasRef = useRef<HTMLCanvasElement>(null);
  const chartRef = useRef<Chart | null>(null);

  useEffect(() => {
    document.body.style.margin = '0';
    if (!canvasRef.current) return;
    if (chartRef.current) chartRef.current.destroy();

    const flux = [fluxA, fluxB, fluxC, fluxD, fluxE, fluxF].flat();
    const err = [errA, errB, errC, errD, errE, errF].flat();
    const zero = [
      { x: flux[0][0], y: ZERO_LEVEL },
      { x: flux[flux.length - 1][0], y: ZERO_LEVEL },
    ];

    chartRef.current = new Chart(canvasRef.current, {
      type: 'line',
      data: {
        datasets: [
          {
            label: 'flux',
            data: toXY(flux),
            borderColor: '#000000',
            borderWidth: 4.2,
            borderJoinStyle: 'round',
            pointRadius: 0,
            clip: 0,
          },
          {
            label: 'error',
            data: toXY(err),
            borderColor: '#008000',
            borderWidth: 1.6,
            pointRadius: 0,
            clip: 0,
          },
          {
            label: 'zero',
            data: zero,
            borderColor: '#0000ff',
            borderWidth: 5,
            pointRadius: 0,
            clip: 0,
          },
        ],
      },
      options: {
        responsive: false,
        animation: false,
        devicePixelRatio: 1,
        parsing: false,
        layout: { padding: { left: 0, right: 300, top: 108, bottom: 0 } },
        plugins: {
          legend: { display: false },
          tooltip: { enabled: false },
          title: { display: false },
        },
        scales: {
          x: {
            type: 'linear',
            min: X_MIN,
            max: X_MAX,
            afterFit: (s) => { s.height = 99; },
            afterBuildTicks: (s) => { s.ticks = X_TICKS.map((value) => ({ value })); },
            grid: { drawOnChartArea: false, drawTicks: true, tickLength: 14, tickWidth: 2.5, tickColor: '#000' },
            border: { display: false },
            ticks: {
              autoSkip: false,
              maxRotation: 0,
              padding: 12,
              color: '#000',
              font: { family: FONT, size: 29 },
              callback: (v) => String(v),
            },
          },
          y: {
            type: 'linear',
            min: Y_MIN,
            max: Y_MAX,
            afterFit: (s) => { s.width = 374; },
            afterBuildTicks: (s) => { s.ticks = Y_TICKS.map((value) => ({ value })); },
            grid: { drawOnChartArea: false, drawTicks: true, tickLength: 14, tickWidth: 2.5, tickColor: '#000' },
            border: { display: false },
            ticks: {
              autoSkip: false,
              padding: 16,
              labelOffset: -2,
              color: '#000',
              font: { family: FONT, size: 34 },
              callback: (v) => Number(v).toFixed(1).replace('-', '\u2212'),
            },
          },
        },
      },
      plugins: [mplPlugin],
    });

    return () => {
      if (chartRef.current) {
        chartRef.current.destroy();
        chartRef.current = null;
      }
    };
  }, []);

  return (
    <div style={{ width: 3000, height: 900 }}>
      <canvas ref={canvasRef} width={3000} height={900} />
    </div>
  );
}
